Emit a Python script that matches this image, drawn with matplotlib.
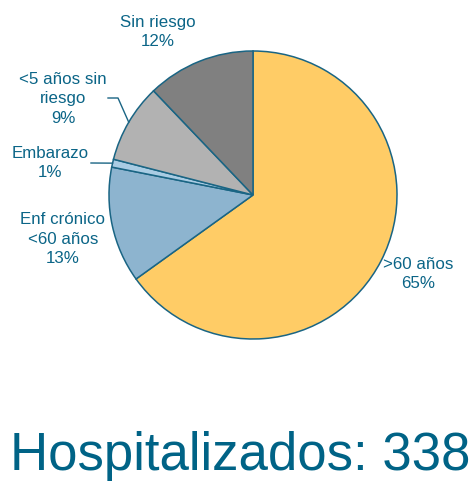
import numpy as np
import matplotlib.pyplot as plt

plt.rcParams['font.family'] = ['Liberation Sans', 'DejaVu Sans']

# data (counts, total 338)
groups = [">60 años", "Enf crónico\n<60 años", "Embarazo", "<5 años sin\nriesgo", "Sin riesgo"]
counts = [220, 44, 3, 30, 41]
colors = ["#FFCC66", "#8DB4CF", "#A9CCE3", "#B2B2B2", "#808080"]
total = sum(counts)

txt_col = "#0B6587"
edge_col = "#1A6584"

W, H = 472, 484
fig = plt.figure(figsize=(W / 100, H / 100), dpi=100)
ax = fig.add_axes([0, 0, 1, 1])

cx, cy, r = 253, H - 195, 144
wedges, _ = ax.pie(counts, colors=colors, startangle=90, counterclock=False,
                   center=(cx, cy), radius=r,
                   wedgeprops=dict(edgecolor=edge_col, linewidth=1.1))
ax.set_xlim(0, W)
ax.set_ylim(0, H)
ax.set_aspect('equal')
ax.axis('off')

# label positions in pixels (x, y of center of text block)
label_pos = [(418, 274), (63, 239), (50, 163), (63, 99), (158, 32)]
for w, name, n, (px, py) in zip(wedges, groups, counts, label_pos):
    pct = round(100 * n / total)
    ax.text(px, H - py, f"{name}\n{pct}%", ha='center', va='center',
            fontsize=12.2, color=txt_col, linespacing=1.36)

# leader lines for the small slices
def arc_point(w):
    mid = np.deg2rad((w.theta1 + w.theta2) / 2)
    return cx + r * np.cos(mid), cy + r * np.sin(mid)

ex, ey = arc_point(wedges[3])
ax.plot([108, 118, ex], [H - 98, H - 98, ey], color=edge_col, lw=1)
ex, ey = arc_point(wedges[2])
ax.plot([91, ex], [H - 163, ey], color=edge_col, lw=1)

ax.text(240, H - 456, f"Hospitalizados: {total}", ha='center', va='center',
        fontsize=38, color="#006386")

fig.savefig("out.png", dpi=100)
